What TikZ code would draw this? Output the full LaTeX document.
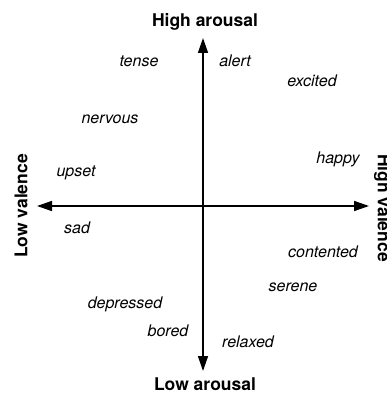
\documentclass[tikz,border=0pt]{standalone}
\usepackage{fontspec}
\setmainfont{TeX Gyre Heros}
\usetikzlibrary{arrows.meta}

\begin{document}
\begin{tikzpicture}[x=1pt, y=-1pt, >={Triangle[length=15pt, width=10pt]},
    mood/.style={font=\fontsize{16}{19}\selectfont\itshape},
    axislabel/.style={font=\fontsize{17.5}{21}\selectfont\bfseries}]
    \useasboundingbox (0,0) rectangle (387,393);

    % Extremos de los ejes
    \coordinate (top) at (203,38);
    \coordinate (bottom) at (203,371);
    \coordinate (left) at (37,206);
    \coordinate (right) at (369,206);

    % Ejes de arousal y valence
    \draw[line width=1.5pt, <->] (bottom) -- (top);
    \draw[line width=1.5pt, <->] (left) -- (right);

    % Nombres de los ejes
    \node[axislabel] (higharousal) at (205,22) {High arousal};
    \node[axislabel] (lowarousal) at (205,384) {Low arousal};
    \node[axislabel, rotate=90] (lowvalence) at (21,206) {Low valence};
    \node[axislabel, rotate=-90] (highvalence) at (382.5,208) {High valence};

    % Emociones, cuadrante superior
    \node[mood] (tense) at (139,61) {tense};
    \node[mood] (alert) at (235,61) {alert};
    \node[mood] (excited) at (312,81) {excited};
    \node[mood] (nervous) at (110,119) {nervous};
    \node[mood] (happy) at (338,159) {happy};
    \node[mood] (upset) at (76,173) {upset};

    % Emociones, cuadrante inferior
    \node[mood] (sad) at (77,228) {sad};
    \node[mood] (contented) at (323,252) {contented};
    \node[mood] (serene) at (293,287) {serene};
    \node[mood] (depressed) at (125,304) {depressed};
    \node[mood] (bored) at (168,331) {bored};
    \node[mood] (relaxed) at (248,342) {relaxed};
\end{tikzpicture}
\end{document}
